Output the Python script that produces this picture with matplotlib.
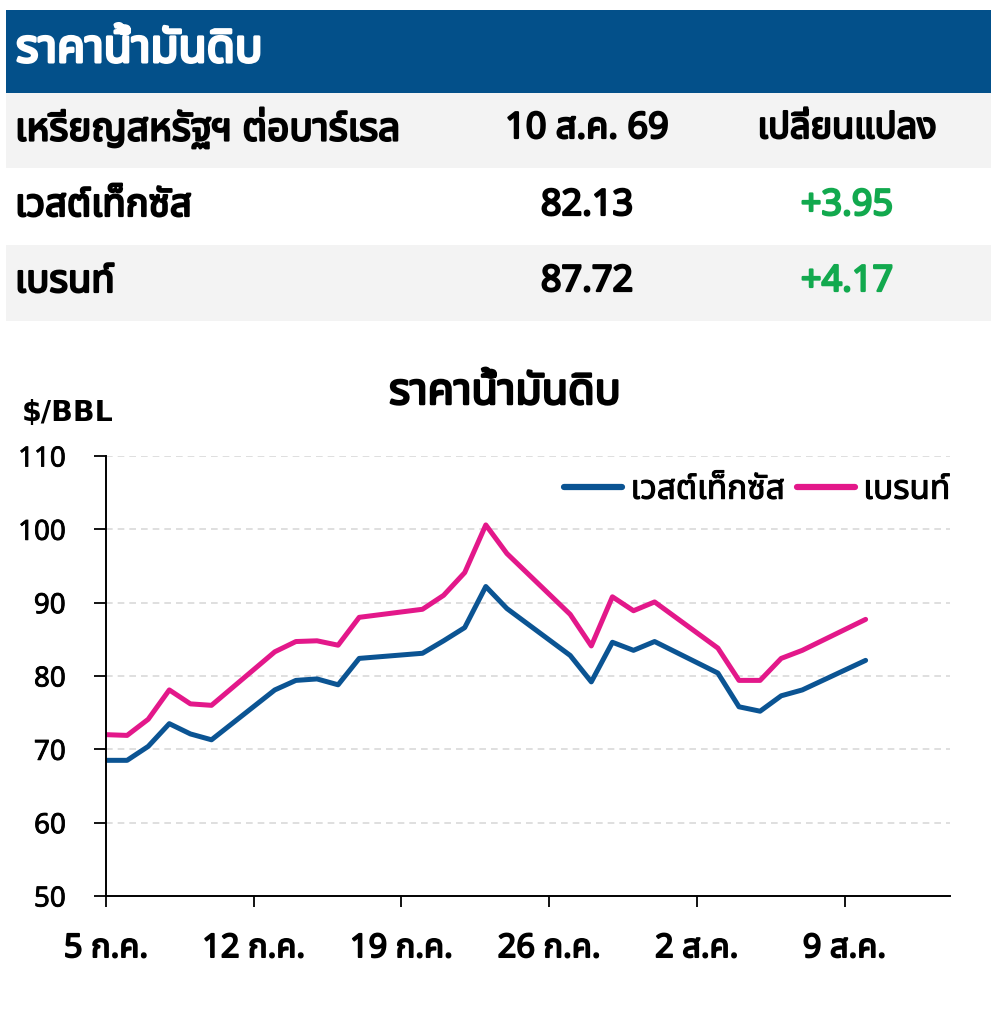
import matplotlib
matplotlib.use('Agg')
import matplotlib.pyplot as plt
import matplotlib.patheffects as pe
from matplotlib import font_manager
from matplotlib.ft2font import FT2Font
from matplotlib.patches import Rectangle


# days counted from 5 ก.ค.
days = [0, 1, 2, 3, 4, 5, 8, 9, 10, 11, 12, 15, 16, 17, 18, 19,
        22, 23, 24, 25, 26, 29, 30, 31, 32, 33, 36]
wti = [68.5, 68.5, 70.4, 73.5, 72.1, 71.3, 78.1, 79.4, 79.6, 78.8, 82.4,
       83.1, 84.8, 86.6, 92.2, 89.2, 82.8, 79.2, 84.6, 83.5, 84.7,
       80.4, 75.8, 75.2, 77.3, 78.1, 82.13]
brent = [72.0, 71.9, 74.1, 78.1, 76.2, 76.0, 83.3, 84.7, 84.8, 84.2, 88.0,
         89.1, 91.0, 94.1, 100.6, 96.7, 88.4, 84.1, 90.8, 88.9, 90.1,
         83.8, 79.4, 79.4, 82.4, 83.5, 87.72]

tick_days = [0, 7, 14, 21, 28, 35]
tick_labels = ['5 ก.ค.', '12 ก.ค.', '19 ก.ค.', '26 ก.ค.', '2 ส.ค.', '9 ส.ค.']

table_header = ['เหรียญสหรัฐฯ ต่อบาร์เรล', '10 ส.ค. 69', 'เปลี่ยนแปลง']
table_names = ['เวสต์เท็กซัส', 'เบรนท์']
table_prices = ['82.13', '87.72']
table_changes = ['+3.95', '+4.17']

BLUE = '#03508A'
LINE_BLUE = '#0B5493'
PINK = '#E3188A'
GREEN = '#12A94E'


def find_thai_font():
    prefer = ['Noto Sans Thai', 'Noto Sans Thai UI', 'Noto Sans Thai Looped',
              'Sarabun', 'Loma', 'Garuda', 'Tlwg Typo', 'Norasi']
    found = []
    for f in font_manager.fontManager.ttflist:
        try:
            cmap = FT2Font(f.fname).get_charmap()
        except Exception:
            continue
        if 0x0E23 in cmap and 0x0E49 in cmap:
            found.append(f.name)
    for name in prefer:
        if name in found:
            return name
    return found[0] if found else 'DejaVu Sans'


def heavy(color='black', w=1.6):
    # fake bold, the thai font only comes in one weight here
    return [pe.withStroke(linewidth=w, foreground=color)]


thai = find_thai_font()
plt.rcParams['font.family'] = ['Noto Sans', thai, 'DejaVu Sans']

fig = plt.figure(figsize=(9.91, 10.14), dpi=100)

# table part drawn in pixel coordinates
bg = fig.add_axes([0, 0, 1, 1])
bg.set_xlim(0, 991)
bg.set_ylim(1014, 0)
bg.axis('off')
bg.add_patch(Rectangle((6, 10), 990, 83, color=BLUE, lw=0))
bg.add_patch(Rectangle((6, 93), 990, 75, color='#F3F3F3', lw=0))
bg.add_patch(Rectangle((6, 245), 990, 76, color='#F3F3F3', lw=0))
bg.text(16, 50, 'ราคาน้ำมันดิบ', color='white', fontsize=33,
        va='center', ha='left', path_effects=heavy('white', 2.2))

row_y = [129, 206, 282]
fs = 26
bg.text(15, row_y[0], table_header[0], fontsize=28, va='center', ha='left',
        path_effects=heavy())
bg.text(587, row_y[0], table_header[1], fontsize=fs, va='center',
        ha='center', path_effects=heavy())
bg.text(847, row_y[0], table_header[2], fontsize=fs, va='center',
        ha='center', path_effects=heavy())
for i in range(len(table_names)):
    y = row_y[i + 1]
    bg.text(15, y, table_names[i], fontsize=27.5, va='center', ha='left',
            path_effects=heavy())
    bg.text(587, y, table_prices[i], fontsize=fs, va='center', ha='center',
            path_effects=heavy())
    bg.text(847, y, table_changes[i], fontsize=fs, va='center', ha='center',
            color=GREEN, path_effects=heavy(GREEN))

bg.text(505, 393, 'ราคาน้ำมันดิบ', fontsize=31, va='center', ha='center',
        path_effects=heavy(w=1.8))
bg.text(22, 413, '$/BBL', fontsize=20.5, fontweight='bold',
        family='DejaVu Sans', va='center', ha='left')

# chart
ax = fig.add_axes([106 / 991, 1 - 896 / 1014, 844 / 991, 440 / 1014])
ax.plot(days, wti, color=LINE_BLUE, lw=3.6, label='เวสต์เท็กซัส',
        solid_joinstyle='round', solid_capstyle='round')
ax.plot(days, brent, color=PINK, lw=3.6, label='เบรนท์',
        solid_joinstyle='round', solid_capstyle='round')

ax.set_xlim(0, 40)
ax.set_ylim(50, 110)
ax.set_yticks(range(50, 111, 10))
ax.set_xticks(tick_days)
ax.set_xticklabels(tick_labels, fontsize=23.5)
ax.tick_params(axis='y', labelsize=20, length=9, width=1.3, pad=20)
ax.tick_params(axis='x', length=8, width=1.3, pad=18)
for lab in ax.get_xticklabels():
    lab.set_path_effects(heavy(w=1.3))
for lab in ax.get_yticklabels():
    lab.set_path_effects(heavy(w=0.6))
ax.grid(axis='y', color='#D9D9D9', lw=1.2, ls=(0, (4, 3)))
ax.set_axisbelow(True)
for s in ['top', 'right']:
    ax.spines[s].set_visible(False)
for s in ['left', 'bottom']:
    ax.spines[s].set_linewidth(1.4)

leg = ax.legend(loc='upper right', bbox_to_anchor=(1.036, 1.028), ncol=2,
                frameon=False, fontsize=24, handlelength=1.75,
                columnspacing=0.35, handletextpad=0.25)
for t in leg.get_texts():
    t.set_path_effects(heavy(w=0.8))
for h in leg.get_lines():
    h.set_linewidth(4.5)
    h.set_solid_capstyle('round')

fig.savefig('out.png', dpi=100)
